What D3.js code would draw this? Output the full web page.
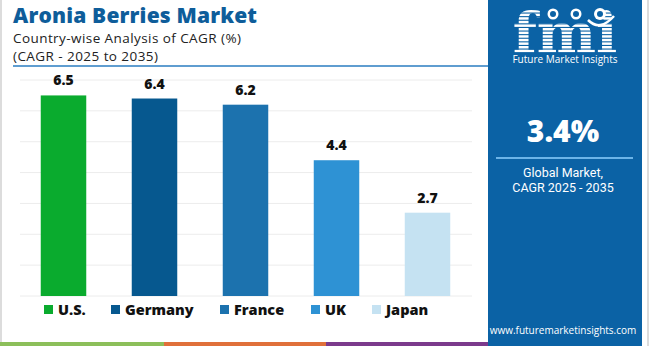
<!DOCTYPE html>
<html><head><meta charset="utf-8">
<script src="https://cdn.jsdelivr.net/npm/d3@7"></script>
<style>html,body{margin:0;padding:0;background:#fff;}svg{display:block;}</style>
</head><body>
<svg id="c" width="650" height="346"></svg>
<script>
const categories = ["U.S.", "Germany", "France", "UK", "Japan"];
const values = [6.5, 6.4, 6.2, 4.4, 2.7];
const colors = ["#0aab2e", "#06588f", "#1c72ae", "#2e92d4", "#c5e2f2"];
const gridTicks = [0, 1, 2, 3, 4, 5, 6, 7];
const title = "Aronia Berries Market";
const subtitle1 = "Country-wise Analysis of CAGR (%)";
const subtitle2 = "(CAGR - 2025 to 2035)";
const globalValue = "3.4%";
const globalLabel = ["Global Market,", "CAGR 2025 - 2035"];
const website = "www.futuremarketinsights.com";

const svg = d3.select("#c");
const font = "'Open Sans', sans-serif";

svg.append("rect").attr("width", 650).attr("height", 346).attr("fill", "#fff");
svg.append("line").attr("x1", 1).attr("x2", 1).attr("y1", 0).attr("y2", 346).attr("stroke", "#d0d0d0").attr("stroke-width", 1.5);
svg.append("line").attr("x1", 648).attr("x2", 648).attr("y1", 0).attr("y2", 346).attr("stroke", "#d0d0d0").attr("stroke-width", 1.5);

// Titles
svg.append("text").attr("x", 13).attr("y", 22.5).text(title)
  .attr("font-family", font).attr("font-weight", 800).attr("font-size", 21).attr("fill", "#0e5d9a")
  .attr("textLength", 244).attr("lengthAdjust", "spacing");
svg.append("text").attr("x", 13).attr("y", 42.5).text(subtitle1)
  .attr("font-family", font).attr("font-size", 13.5).attr("fill", "#222")
  .attr("textLength", 228).attr("lengthAdjust", "spacing");
svg.append("text").attr("x", 13).attr("y", 61).text(subtitle2)
  .attr("font-family", font).attr("font-size", 13.5).attr("fill", "#222")
  .attr("textLength", 145).attr("lengthAdjust", "spacing");
svg.append("line").attr("x1", 13).attr("x2", 488).attr("y1", 66).attr("y2", 66)
  .attr("stroke", "#2a7cc0").attr("stroke-width", 1.5);

// Scales
const x = d3.scaleBand().domain(categories).range([18, 473]).paddingInner(0.5).paddingOuter(0.25);
const y = d3.scaleLinear().domain([0, 7]).range([296, 80]);

// Grid
svg.append("g").selectAll("line").data(gridTicks).join("line")
  .attr("x1", 20).attr("x2", 472)
  .attr("y1", d => y(d)).attr("y2", d => y(d))
  .attr("stroke", "#ececec").attr("stroke-width", 1);

// Bars
svg.append("g").selectAll("rect").data(values).join("rect")
  .attr("x", (d, i) => x(categories[i]))
  .attr("y", d => y(d))
  .attr("width", x.bandwidth())
  .attr("height", d => y(0) - y(d))
  .attr("fill", (d, i) => colors[i]);

// Value labels
svg.append("g").selectAll("text").data(values).join("text")
  .attr("x", (d, i) => x(categories[i]) + x.bandwidth() / 2)
  .attr("y", d => y(d) - 10)
  .attr("text-anchor", "middle")
  .attr("font-family", font).attr("font-weight", 800).attr("font-size", 14).attr("fill", "#111")
  .text(d => d.toFixed(1));

// Legend
const legendX = [44, 111, 220, 311, 372];
const lg = svg.append("g").selectAll("g").data(categories).join("g")
  .attr("transform", (d, i) => `translate(${legendX[i]},305)`);
lg.append("rect").attr("width", 9).attr("height", 9).attr("fill", (d, i) => colors[i]);
lg.append("text").attr("x", 14).attr("y", 9.5).text(d => d)
  .attr("font-family", font).attr("font-weight", 800).attr("font-size", 14.5).attr("fill", "#111");

// Bottom strip
const strip = [["#8cbf5a", 0, 164], ["#e0703a", 164, 326], ["#7b3a8c", 326, 488]];
svg.append("g").selectAll("rect").data(strip).join("rect")
  .attr("x", d => d[1]).attr("width", d => d[2] - d[1]).attr("y", 342).attr("height", 4).attr("fill", d => d[0]);

// Right panel
const panelColor = "#0b62a5";
svg.append("rect").attr("x", 488).attr("y", 0).attr("width", 154).attr("height", 346).attr("fill", panelColor);
const cx = 565;

// Logo: striped "fmi" letters drawn through a mask
const defs = svg.append("defs");
const mask = defs.append("mask").attr("id", "fmiMask").attr("maskUnits", "userSpaceOnUse")
  .attr("x", 488).attr("y", 0).attr("width", 154).attr("height", 70);
mask.append("text").attr("x", cx).attr("y", 53).attr("text-anchor", "middle")
  .attr("font-family", "'DejaVu Serif', serif").attr("font-weight", 700).attr("font-size", 56)
  .attr("fill", "#fff").text("fmi");
const logo = svg.append("g");
const stripes = logo.append("g").attr("mask", "url(#fmiMask)");
for (let yy = 10; yy < 56; yy += 3.6) {
  stripes.append("rect").attr("x", 500).attr("width", 130).attr("y", yy).attr("height", 2.5).attr("fill", "#fff");
}
// icons above letters
[[553, 14], [576, 14]].forEach(p => {
  logo.append("circle").attr("cx", p[0]).attr("cy", p[1]).attr("r", 5.5).attr("fill", "#fff");
  logo.append("circle").attr("cx", p[0]).attr("cy", p[1]).attr("r", 3).attr("fill", panelColor);
});
logo.append("circle").attr("cx", 600).attr("cy", 14).attr("r", 6).attr("fill", "#fff");
logo.append("circle").attr("cx", 600).attr("cy", 14).attr("r", 3).attr("fill", panelColor);
logo.append("path").attr("d", "M588,20 Q600,32 614,16").attr("fill", "none").attr("stroke", "#fff").attr("stroke-width", 2.5);
logo.append("text").attr("x", cx).attr("y", 63).attr("text-anchor", "middle")
  .attr("font-family", font).attr("font-size", 10).attr("fill", "#fff").text("Future Market Insights");

svg.append("text").attr("x", cx - 2).attr("y", 142).attr("text-anchor", "middle")
  .attr("font-family", font).attr("font-weight", 800).attr("font-size", 30).attr("fill", "#fff").text(globalValue);
svg.append("line").attr("x1", 496).attr("x2", 633).attr("y1", 158).attr("y2", 158)
  .attr("stroke", "#6cb4e8").attr("stroke-width", 2);
svg.append("g").selectAll("text").data(globalLabel).join("text")
  .attr("x", cx - 2).attr("y", (d, i) => 176.5 + i * 15).attr("text-anchor", "middle")
  .attr("font-family", "Roboto, sans-serif").attr("font-size", 12.5).attr("fill", "#fff").text(d => d);
svg.append("text").attr("x", cx - 2).attr("y", 334).attr("text-anchor", "middle")
  .attr("font-family", font).attr("font-size", 10).attr("fill", "#fff").text(website);
</script>
</body></html>
